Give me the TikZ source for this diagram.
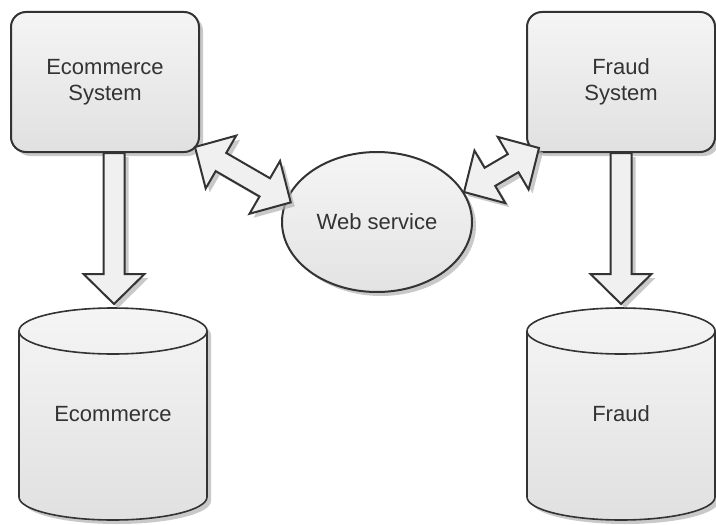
\documentclass[tikz,border=0pt]{standalone}
\usepackage{fontspec}
\setmainfont{Liberation Sans}
\usetikzlibrary{shapes,shadows,calc,positioning}

\definecolor{linegray}{HTML}{333333}

% fat arrow from #1 to #2
\newcommand{\blockarrow}[2]{%
  \coordinate (hb) at ($(#2)!15pt!(#1)$);
  \draw[fatarrow] ($(#1)!5.25pt!90:(#2)$) -- ($(hb)!5.25pt!-90:(#1)$)
    -- ($(hb)!15.25pt!-90:(#1)$) -- (#2) -- ($(hb)!15.25pt!90:(#1)$)
    -- ($(hb)!5.25pt!90:(#1)$) -- ($(#1)!5.25pt!-90:(#2)$) -- cycle;}
% fat arrow with two heads
\newcommand{\blockdarrow}[2]{%
  \coordinate (ha) at ($(#1)!15pt!(#2)$);
  \coordinate (hb) at ($(#2)!15pt!(#1)$);
  \draw[fatarrow] (#1) -- ($(ha)!15.25pt!90:(#2)$) -- ($(ha)!5.25pt!90:(#2)$)
    -- ($(hb)!5.25pt!-90:(#1)$) -- ($(hb)!15.25pt!-90:(#1)$) -- (#2)
    -- ($(hb)!15.25pt!90:(#1)$) -- ($(hb)!5.25pt!90:(#1)$)
    -- ($(ha)!5.25pt!-90:(#2)$) -- ($(ha)!15.25pt!-90:(#2)$) -- cycle;}

\tikzset{
  softshadow/.style={drop shadow={shadow xshift=2pt,shadow yshift=-2pt,fill=black!30,opacity=0.7}},
  system/.style={rectangle,rounded corners=7.5pt,draw=linegray,line width=1pt,
    top color=gray!8,bottom color=gray!24,minimum width=94pt,minimum height=70pt,
    align=center,softshadow},
  service/.style={ellipse,draw=linegray,line width=1pt,top color=gray!8,
    bottom color=gray!22,minimum width=95pt,minimum height=70pt,inner sep=0pt,softshadow},
  dbbody/.style={draw=linegray,line width=0.8pt,top color=gray!8,bottom color=gray!24,softshadow},
  dbrim/.style={draw=linegray,line width=0.8pt},
  fatarrow/.style={draw=linegray,line width=1pt,line join=miter,fill=gray!12,softshadow}
}

\begin{document}
\begin{tikzpicture}[x=0.5pt,y=-0.5pt,
  every node/.style={font=\fontsize{11}{13}\selectfont,text=linegray}]
\useasboundingbox (0,0) rectangle (716,524);
% Systems
  \node[system] (ecom) at (105,82) {Ecommerce\\System};
  \node[system] (fraud) at (621,82) {Fraud\\System};
  \node[service] (ws) at (377,222) {Web service};
% Ecommerce database
  \path[dbbody] (19,331) -- (19,497) arc[start angle=180,end angle=360,x radius=47pt,y radius=11.5pt]
    -- (207,331) arc[start angle=0,end angle=180,x radius=47pt,y radius=11.5pt] -- cycle;
  \draw[dbrim] (19,331) arc[start angle=180,end angle=360,x radius=47pt,y radius=11.5pt];
  \node (ecomdb) at (113,414) {Ecommerce};
  \coordinate (ecomtop) at (114,304);
% Fraud database
  \path[dbbody] (527,331) -- (527,497) arc[start angle=180,end angle=360,x radius=47pt,y radius=11.5pt]
    -- (715,331) arc[start angle=0,end angle=180,x radius=47pt,y radius=11.5pt] -- cycle;
  \draw[dbrim] (527,331) arc[start angle=180,end angle=360,x radius=47pt,y radius=11.5pt];
  \node (fraudb) at (621,414) {Fraud};
  \coordinate (fraudtop) at (621,304);
% Arrows
  \coordinate (ecomout) at ($(ecom.south)+(9,0)$);
  \blockarrow{ecomout}{ecomtop}
  \blockarrow{fraud.south}{fraudtop}
  \coordinate (ecomcorner) at ($(ecom.south east)+(-5,-6)$);
  \coordinate (wsleft) at ($(ws.168)+(6,0)$);
  \blockdarrow{ecomcorner}{wsleft}
  \coordinate (fraudcorner) at ($(fraud.south west)+(13,-5)$);
  \blockdarrow{ws.19}{fraudcorner}
\end{tikzpicture}
\end{document}
